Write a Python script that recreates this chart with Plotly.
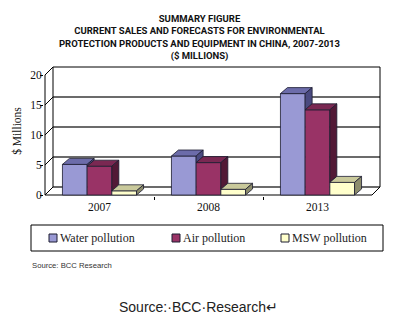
import plotly.graph_objects as go

# ---------------- data ----------------
years = ["2007", "2008", "2013"]
series_names = ["Water pollution", "Air pollution", "MSW pollution"]
water = [5.1, 6.5, 16.9]
air = [4.8, 5.4, 14.2]
msw = [0.7, 0.95, 2.1]
y_ticks = [0, 5, 10, 15, 20]

title_lines = ["SUMMARY FIGURE",
               "CURRENT SALES AND FORECASTS FOR ENVIRONMENTAL",
               "PROTECTION PRODUCTS AND EQUIPMENT IN CHINA, 2007-2013",
               "($ MILLIONS)"]
source_small = "Source: BCC Research"
source_big = "Source:\u00b7BCC\u00b7Research\u21b5"

# ---------------- style ----------------
front_colors = ["#9999d4", "#993366", "#ffffcc"]
top_colors = ["#6c6caa", "#7a2852", "#c9c99b"]
side_colors = ["#4a4a80", "#521936", "#8c8c6c"]
outline = "#1c1c30"
serif = "Liberation Serif"

W, H = 402, 321
L, R, T, B = 44, 381, 66, 196          # plot-area pixel box
PX_X, PX_Y = 109.0, 6.0                # pixels per x unit / per y unit
X0_PX, Y0_PX = 45, 195                 # front plane origin in pixels
DXB, DYB = 7 / PX_X, 6 / PX_Y          # bar depth
DXW, DYW = 8 / PX_X, 8 / PX_Y          # wall depth
bargap = 0.32
legend_marker_px = [53, 176, 285]      # legend swatch centres (px)
legend_y_px = 238

series = [water, air, msw]
ncat = len(years)
nser = len(series)
bw = (1 - bargap) / nser

x_rng = [-0.5 - (X0_PX - L) / PX_X, -0.5 + (R - X0_PX) / PX_X]
y_rng = [-(B - Y0_PX) / PX_Y, (Y0_PX - T) / PX_Y]
xf0, xf1 = -0.5, ncat - 0.5
ytop = y_ticks[-1]

fig = go.Figure()

# front faces as bars
for s, vals in enumerate(series):
    fig.add_trace(go.Bar(
        x=list(range(ncat)), y=vals, name=series_names[s], showlegend=False,
        marker=dict(color=front_colors[s], line=dict(color=outline, width=0.8)),
        hoverinfo="skip"))

# 3D top and side faces
def poly(xs, ys, color):
    fig.add_trace(go.Scatter(
        x=xs + [xs[0]], y=ys + [ys[0]], mode="lines", fill="toself",
        fillcolor=color, line=dict(color=outline, width=0.8),
        showlegend=False, hoverinfo="skip"))

for c in range(ncat):
    for s in range(nser):
        h = series[s][c]
        x0 = c - (1 - bargap) / 2 + s * bw
        x1 = x0 + bw
        poly([x0, x1, x1 + DXB, x0 + DXB], [h, h, h + DYB, h + DYB], top_colors[s])
        b = min(h, series[s + 1][c]) if s < nser - 1 else 0
        if b < h:
            poly([x1, x1 + DXB, x1 + DXB, x1], [b, b + DYB, h + DYB, h], side_colors[s])

# walls / gridlines
shapes = []
def line(xa, ya, xb, yb, color="#3a3a3a", width=1.3):
    shapes.append(dict(type="line", xref="x", yref="y", x0=xa, y0=ya, x1=xb, y1=yb,
                       line=dict(color=color, width=width), layer="below"))

for v in y_ticks:
    line(xf0 + DXW, v + DYW, xf1 + DXW, v + DYW,
         color="#000" if v == ytop else "#3a3a3a", width=1 if v == ytop else 1.4)
    line(xf0, v, xf0 + DXW, v + DYW, color="#000", width=1)
line(xf0 + DXW, DYW, xf0 + DXW, ytop + DYW, color="#000", width=1)
line(xf1 + DXW, DYW, xf1 + DXW, ytop + DYW, color="#000", width=1)
line(xf0, 0, xf1, 0, color="#000", width=1)
line(xf1, 0, xf1 + DXW, DYW, color="#000", width=1)
line(xf0, 0, xf0, ytop, color="#000", width=1)

def px2paper_x(p): return (p - L) / (R - L)
def px2paper_y(p): return (B - p) / (B - T)

# legend box
shapes.append(dict(type="rect", xref="paper", yref="paper",
                   x0=px2paper_x(31), x1=px2paper_x(383),
                   y0=px2paper_y(251), y1=px2paper_y(225),
                   line=dict(color="#000", width=1), fillcolor="rgba(0,0,0,0)"))

annotations = [
    dict(text="<br>".join(title_lines), xref="paper", yref="paper",
         x=px2paper_x(199), y=px2paper_y(11), xanchor="center", yanchor="top",
         showarrow=False, align="center",
         font=dict(family="Roboto", size=9.5, color="#111", weight="bold")),
    dict(text=source_small, xref="paper", yref="paper",
         x=px2paper_x(30), y=px2paper_y(265), xanchor="left", yanchor="middle",
         showarrow=False, font=dict(family="Liberation Sans", size=7.7, color="#333")),
    dict(text=source_big, xref="paper", yref="paper",
         x=px2paper_x(198), y=px2paper_y(307), xanchor="center", yanchor="middle",
         showarrow=False, font=dict(family="Liberation Sans", size=14, color="#222")),
]

# legend entries (swatch + label)
half = 4
for s in range(nser):
    cx = legend_marker_px[s]
    shapes.append(dict(type="rect", xref="paper", yref="paper",
                       x0=px2paper_x(cx - half), x1=px2paper_x(cx + half),
                       y0=px2paper_y(legend_y_px + half), y1=px2paper_y(legend_y_px - half),
                       line=dict(color=outline, width=1), fillcolor=front_colors[s]))
    annotations.append(dict(text=series_names[s], xref="paper", yref="paper",
                            x=px2paper_x(cx + half + 1), y=px2paper_y(legend_y_px),
                            xanchor="left", yanchor="middle", showarrow=False,
                            font=dict(family=serif, size=12, color="#222")))

fig.update_layout(
    width=W, height=H,
    margin=dict(l=L, r=W - R, t=T, b=H - B, pad=0),
    paper_bgcolor="white", plot_bgcolor="white",
    barmode="group", bargap=bargap, bargroupgap=0,
    showlegend=False,
    shapes=shapes, annotations=annotations,
    xaxis=dict(range=x_rng, tickvals=list(range(ncat)), ticktext=years,
               showgrid=False, zeroline=False, showline=False, ticks="",
               ticklabelstandoff=2,
               tickfont=dict(family=serif, size=11.5, color="#111"),
               minor=dict(tickvals=[c + 0.5 for c in range(ncat - 1)],
                          ticks="outside", ticklen=3, tickcolor="#000", showgrid=False),
               fixedrange=True),
    yaxis=dict(range=y_rng, tickvals=y_ticks, showgrid=False, zeroline=False,
               showline=False, ticks="outside", ticklen=3, tickcolor="#000",
               ticklabelstandoff=-4,
               tickfont=dict(family=serif, size=11.5, color="#111"),
               title=dict(text="$ Millions", standoff=6,
                          font=dict(family=serif, size=11.5, color="#111")),
               fixedrange=True),
)

fig.write_html("out.html")
